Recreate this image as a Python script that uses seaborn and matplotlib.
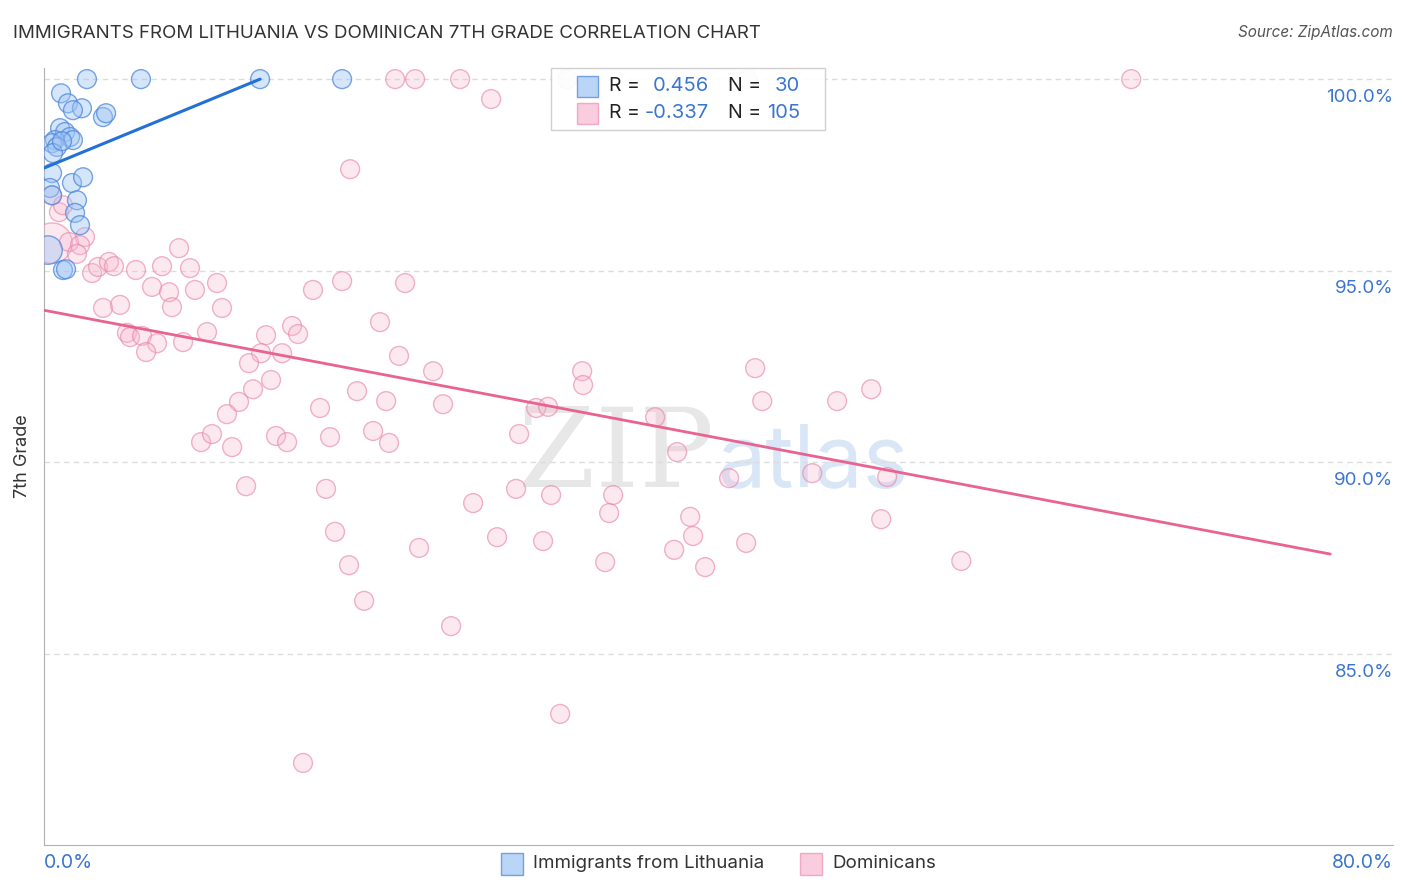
import seaborn as sns
import pandas as pd
import matplotlib.pyplot as plt
from matplotlib.patches import Rectangle
import matplotlib.transforms as mtransforms

# immigrants from lithuania (blue)
lith_x = [2.67, 6.03, 13.44, 18.54, 1.06, 1.49, 2.36, 1.80, 3.67, 3.86,
          1.00, 1.31, 1.62, 1.80, 0.68, 0.50, 0.81, 0.56, 1.12, 0.50,
          1.74, 2.43, 0.37, 0.50, 2.05, 1.93, 2.24, 0.25, 1.18, 1.37]
lith_y = [100.0, 100.0, 100.0, 100.0, 99.63, 99.37, 99.24, 99.19, 99.01, 99.11,
          98.72, 98.62, 98.49, 98.41, 98.41, 98.33, 98.23, 98.07, 98.38, 97.55,
          97.29, 97.44, 97.16, 96.97, 96.84, 96.51, 96.19, 95.54, 95.02, 95.04]
lith_big = [27]

# dominicans (pink)
dom_x = [21.84, 23.08, 25.88, 32.54, 43.73, 67.62, 27.81, 19.04, 0.50, 0.93,
         1.18, 0.50, 1.56, 2.55, 2.24, 2.05, 2.99, 3.36, 4.04, 4.35,
         5.72, 7.34, 8.40, 9.08, 6.72, 7.78, 9.39, 10.76, 3.67, 4.73,
         7.96, 11.07, 5.16, 5.35, 6.10, 7.03, 6.35, 8.65, 10.14, 13.81,
         13.50, 12.75, 16.73, 18.54, 22.46, 20.90, 15.43, 15.80, 14.81, 22.08,
         24.20, 14.12, 13.00, 19.47, 21.28, 24.82, 12.13, 11.38, 17.17, 9.77,
         10.45, 11.70, 14.43, 15.12, 17.79, 20.47, 21.46, 12.57, 30.61, 31.35,
         33.47, 33.53, 38.01, 29.55, 39.38, 17.54, 26.69, 29.36, 31.54, 35.40,
         35.15, 18.10, 23.33, 28.18, 31.04, 39.19, 34.90, 18.97, 19.91, 25.32,
         44.23, 44.67, 49.33, 51.45, 42.61, 47.78, 52.44, 52.07, 43.67, 57.05,
         41.12, 40.37, 40.19, 32.10, 16.11]
dom_y = [100.0, 100.0, 100.0, 100.0, 100.0, 100.0, 99.48, 97.65, 96.97, 96.53,
         96.71, 95.72, 95.75, 95.88, 95.67, 95.44, 94.94, 95.10, 95.23, 95.12,
         95.02, 95.12, 95.59, 95.07, 94.58, 94.44, 94.50, 94.68, 94.03, 94.11,
         94.05, 94.03, 93.38, 93.27, 93.30, 93.11, 92.88, 93.14, 93.40, 93.32,
         92.85, 92.59, 94.50, 94.73, 94.68, 93.66, 93.56, 93.35, 92.85, 92.78,
         92.38, 92.15, 91.91, 91.86, 91.60, 91.52, 91.58, 91.26, 91.42, 90.53,
         90.74, 90.40, 90.69, 90.53, 90.66, 90.82, 90.51, 89.38, 91.42, 91.45,
         92.38, 92.02, 91.18, 90.74, 90.27, 89.31, 88.94, 89.31, 89.15, 89.15,
         88.68, 88.19, 87.77, 88.05, 87.95, 87.72, 87.40, 87.32, 86.39, 85.73,
         92.46, 91.60, 91.60, 91.91, 89.59, 89.72, 89.62, 88.52, 87.90, 87.43,
         87.27, 88.08, 88.58, 83.44, 82.16]
dom_big = [11]

# trend lines: (intercept, slope, x end)
lith_trend = (97.68, 0.1726, 13.44)
dom_trend = (93.97, -0.0795, 80.0)

y_ticks = [85, 90, 95, 100]
x_ticks = [0, 8, 16, 24, 32, 40, 48, 56, 64, 72, 80]

BLUE_FACE = (0.62, 0.77, 0.96, 0.42)
BLUE_EDGE = (0.30, 0.53, 0.86, 0.75)
PINK_FACE = (0.97, 0.72, 0.81, 0.32)
PINK_EDGE = (0.91, 0.52, 0.66, 0.62)
BLUE_LINE = '#2370d6'
PINK_LINE = '#e8638f'
TXT_BLUE = '#3a76d0'

sns.set_style('white')
plt.rcParams['font.family'] = ['Inter', 'DejaVu Sans']

fig = plt.figure(figsize=(14.06, 8.92), dpi=100)
ax = fig.add_axes([44/1406, 47/892, 1349/1406, 777/892])

df_l = pd.DataFrame({'x': lith_x, 'y': lith_y})
df_l['s'] = [420 if i in lith_big else 185 for i in range(len(df_l))]
df_d = pd.DataFrame({'x': dom_x, 'y': dom_y})
df_d['s'] = [850 if i in dom_big else 185 for i in range(len(df_d))]

sns.scatterplot(data=df_d, x='x', y='y', s=df_d['s'].tolist(), ax=ax,
                linewidth=1.0, legend=False, zorder=3)
sns.scatterplot(data=df_l, x='x', y='y', s=df_l['s'].tolist(), ax=ax,
                linewidth=1.0, legend=False, zorder=4)
ax.collections[0].set_facecolor(PINK_FACE)
ax.collections[0].set_edgecolor(PINK_EDGE)
ax.collections[1].set_facecolor(BLUE_FACE)
ax.collections[1].set_edgecolor(BLUE_EDGE)

b0, b1, bx = lith_trend
ax.plot([0, bx], [b0, b0 + b1 * bx], color=BLUE_LINE, lw=2.2, zorder=5)
p0, p1, px = dom_trend
ax.plot([0, px], [p0, p0 + p1 * px], color=PINK_LINE, lw=2.0, zorder=5)

ax.set_xlim(0, 83.9)
ax.set_ylim(80.02, 100.29)
ax.set_xticks(x_ticks)
ax.set_xticklabels([])
ax.set_yticks(y_ticks)
ax.set_yticklabels([])
ax.tick_params(axis='x', direction='in', length=14, width=1, color='#c4c4c4')
ax.tick_params(axis='y', length=0)
for v in y_ticks:
    ax.axhline(v, color='#dcdcdc', lw=1, ls=(0, (4, 3)), zorder=1)
for side in ['top', 'right']:
    ax.spines[side].set_visible(False)
ax.spines['left'].set_color('#b0b0b0')
ax.spines['bottom'].set_color('#b0b0b0')
ax.set_xlabel('')
ax.set_ylabel('7th Grade', fontsize=13, color='#333333', labelpad=6)

# y labels sit a bit below their gridlines, on the right
off = mtransforms.offset_copy(ax.get_yaxis_transform(), fig=fig, x=0, y=-18, units='dots')
for v in y_ticks:
    ax.text(1.0, v, f'{v:.1f}%', transform=off, ha='right', va='center',
            fontsize=13.5, color=TXT_BLUE)
ax.text(0.0, -0.023, '0.0%', transform=ax.transAxes, ha='left', va='center',
        fontsize=14, color=TXT_BLUE)
ax.text(1.0, -0.023, '80.0%', transform=ax.transAxes, ha='right', va='center',
        fontsize=14, color=TXT_BLUE)

# watermark
ax.text(0.497, 0.50, 'ZIP', transform=ax.transAxes, ha='right', va='center',
        fontsize=80, family='DejaVu Serif', color='#d8d8d8', alpha=0.6, zorder=0)
ax.text(0.499, 0.49, 'atlas', transform=ax.transAxes, ha='left', va='center',
        fontsize=62, color='#b3cfef', alpha=0.5, zorder=0)

fig.text(13/1406, 1 - 33/892, 'IMMIGRANTS FROM LITHUANIA VS DOMINICAN 7TH GRADE CORRELATION CHART',
         ha='left', va='center', fontsize=13.5, color='#333333')
fig.text(1393/1406, 1 - 33/892, 'Source: ZipAtlas.com', ha='right', va='center',
         fontsize=11, style='italic', color='#555555')

# top legend box
W, H = 1406, 892
fig.patches.append(Rectangle((551/W, 1 - 130/H), 274/W, 62/H, transform=fig.transFigure,
                             facecolor=(1, 1, 1, 0.92), edgecolor='#d0d0d0', lw=1, zorder=10))
rows = [(86, BLUE_FACE, BLUE_EDGE, '0.456', '30'), (113, PINK_FACE, PINK_EDGE, '-0.337', '105')]
for yy, fc, ec, r, n in rows:
    fig.patches.append(Rectangle((577/W, 1 - (yy + 11)/H), 21/W, 21/H, transform=fig.transFigure,
                                 facecolor=fc[:3] + (0.7,), edgecolor=ec, lw=1, zorder=11))
    fig.text(609/W, 1 - yy/H, 'R =', ha='left', va='center', fontsize=14, color='#222222', zorder=12)
    fig.text(709/W, 1 - yy/H, r, ha='right', va='center', fontsize=14.5, color=TXT_BLUE, zorder=12)
    fig.text(728/W, 1 - yy/H, 'N =', ha='left', va='center', fontsize=14, color='#222222', zorder=12)
    fig.text(800/W, 1 - yy/H, n, ha='right', va='center', fontsize=14.5, color=TXT_BLUE, zorder=12)

# bottom legend
for x0, fc, ec, lab in [(501, BLUE_FACE, BLUE_EDGE, 'Immigrants from Lithuania'),
                        (800, PINK_FACE, PINK_EDGE, 'Dominicans')]:
    fig.patches.append(Rectangle((x0/W, 1 - 875/H), 22/W, 22/H, transform=fig.transFigure,
                                 facecolor=fc[:3] + (0.7,), edgecolor=ec, lw=1, zorder=11))
    fig.text((x0 + 32)/W, 1 - 864/H, lab, ha='left', va='center', fontsize=13.5, color='#333333')

fig.savefig('out.png', dpi=100)
